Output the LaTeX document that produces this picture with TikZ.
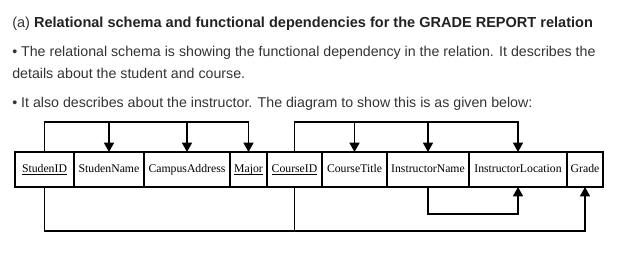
\documentclass[tikz,border=0pt]{standalone}
\usepackage{fontspec}
\setmainfont{Liberation Serif}
\setsansfont{Liberation Sans}
\usepackage{tikz}
\usetikzlibrary{arrows.meta,positioning,calc}
\definecolor{bodygray}{HTML}{333333}
\definecolor{headgray}{HTML}{222222}
\newcommand{\keyattr}[1]{\underline{\smash{#1}}}

\begin{document}
\begin{tikzpicture}[x=0.75pt,y=-0.75pt,
			txt/.style={anchor=base west,inner sep=0pt,text=bodygray,font=\fontsize{10.65pt}{12pt}\sffamily},
			headtxt/.style={txt,font=\fontsize{10.9pt}{12pt}\sffamily},
			attr/.style={draw,line width=1.1pt,outer sep=0pt,minimum height=26.25pt,inner sep=0pt,text height=6.5pt,text depth=2pt,font=\fontsize{8.8pt}{10pt}\selectfont},
			link/.style={line width=1.1pt},
			fd/.style={link,-{Triangle[length=7pt,width=7.5pt]}}
			]
			\useasboundingbox (0,0) rectangle (641,254);
			% text above the schema
			\node[headtxt] (head) at (12,27) {(a) \textbf{\color{headgray}Relational schema and functional dependencies for the GRADE REPORT relation}};
			\node[txt] (l1) at (12,56) {\textbullet\ The relational schema is showing the functional dependency in the relation. It describes the};
			\node[txt] (l2) at (12,78) {details about the student and course.};
			\node[txt] (l3) at (12,107) {\textbullet\ It also describes about the instructor. The diagram to show this is as given below:};
			% the relation
			\node[attr,minimum width=44.25pt,anchor=north west] (sid) at (15,152) {\keyattr{StudenID}};
			\node[attr,minimum width=52.5pt] (sname) [right=0pt of sid] {StudenName};
			\node[attr,minimum width=64.5pt] (addr) [right=0pt of sname] {CampusAddress};
			\node[attr,minimum width=27.75pt] (maj) [right=0pt of addr] {\keyattr{Major}};
			\node[attr,minimum width=41.25pt] (cid) [right=0pt of maj] {\keyattr{CourseID}};
			\node[attr,minimum width=48.75pt] (ctitle) [right=0pt of cid] {CourseTitle};
			\node[attr,minimum width=61.5pt] (iname) [right=0pt of ctitle] {InstructorName};
			\node[attr,minimum width=73.5pt] (iloc) [right=0pt of iname] {InstructorLocation};
			\node[attr,minimum width=27pt] (grd) [right=0pt of iloc] {Grade};
			% dependencies above
			\coordinate (stop) at ($(sid.north)+(0,-30)$);
			\coordinate (ctop) at ($(cid.north)+(0,-30)$);
			\draw[fd] (sid.north) -- (stop) -| (maj.north);
			\draw[fd] (sname.north |- stop) -- (sname.north);
			\draw[fd] (addr.north |- stop) -- (addr.north);
			\draw[fd] (cid.north) -- (ctop) -| (iloc.north);
			\draw[fd] (ctitle.north |- ctop) -- (ctitle.north);
			\draw[fd] (iname.north |- ctop) -- (iname.north);
			% dependencies below
			\coordinate (sbot) at ($(sid.south)+(0,44)$);
			\draw[fd] (sid.south) -- (sbot) -| (grd.south);
			\draw[link] (cid.south) -- (cid.south |- sbot);
			\draw[fd] (iname.south) -- ++(0,27) -| (iloc.south);
		\end{tikzpicture}
\end{document}
